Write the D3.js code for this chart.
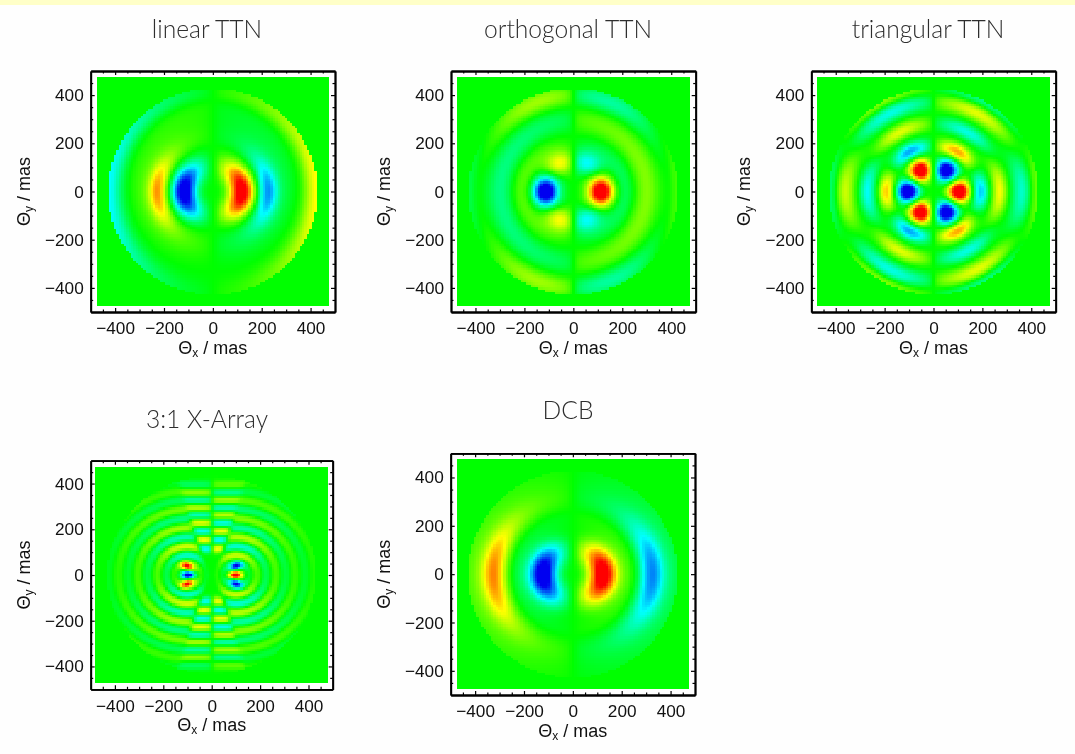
<!DOCTYPE html>
<html><head><meta charset="utf-8">
<script src="https://d3js.org/d3.v7.min.js"></script>
<style>
html,body{margin:0;padding:0;background:#fefefe;width:1075px;height:754px;overflow:hidden}
#stripe{position:absolute;left:0;top:0;width:1075px;height:5px;background:#ffffc8}
canvas{position:absolute;left:0;top:0;filter:blur(0.7px)}
svg{position:absolute;left:0;top:0;filter:blur(0.45px)}
</style></head><body>
<div id="stripe"></div>
<canvas id="c" width="1075" height="754"></canvas>
<svg id="s" width="1075" height="754"></svg>
<script>
// Titles and tick labels
const panelTitles = ["linear TTN","orthogonal TTN","triangular TTN","3:1 X-Array","DCB"];
const majorTicks = [-400,-200,0,200,400];
const minorTicks = [-450,-350,-300,-250,-150,-100,-50,50,100,150,250,300,350,450];
const discRadius = [428,428,428,432,428];
const mirrorSoftness = [30,22,18,10,30];

// Lobes, right half of each map (the left half is the mirror with opposite sign).
// Each lobe: [radius mas, angle deg, radial spread mas, angular spread deg, signed level]
const linearLobes = [
  [118,0,38,43,1.2],[150,72,40,22,0.1],
  [224,0,27,25,-0.5],[232,0,50,58,-0.24],
  [430,0,42,40,0.52],[345,55,50,45,-0.08],[405,62,25,28,0.08]
];
const orthogonalLobes = [
  [112,0,38,25,1.35],[125,65,38,26,-0.55],[125,-65,38,26,-0.55],
  [205,0,34,48,-0.22],[298,0,38,90,0.26],
  [398,68,33,24,-0.32],[398,-68,33,24,-0.32],[425,0,18,25,0.14]
];
const triangularLobes = [
  [104,0,33,19,1.35],[100,59,33,20,-1.35],[100,-59,33,20,-1.35],
  [190,0,24,20,-0.66],[190,59,24,20,0.72],[190,-59,24,20,0.72],
  [270,0,22,22,0.5],[282,60,22,20,-0.46],[282,-60,22,20,-0.46],
  [360,0,26,22,-0.42],[370,60,24,22,0.46],[370,-60,24,22,0.46],
  [425,0,20,20,0.24],[425,60,18,20,-0.28],[425,-60,18,20,-0.28]
];
const xArrayLobes = [
  [98,0,19,7,1.2],[106,20,19,6,-0.92],[106,-20,19,6,-0.92]
];
const dcbLobes = [
  [122,0,44,46,1.2],[324,0,36,27,-0.52],[320,0,75,62,-0.24],
  [238,0,36,70,0.2],[425,0,30,50,-0.05]
];
// 3:1 X-Array fringes: arcs around the bright spot and the bands in the central wedge
const xArrayRingRadii = [55,85,125,165,205,245,285,325,365,405];
const xArrayRingLevels = [-0.34,0.48,-0.46,0.4,-0.35,0.28,-0.24,0.18,-0.13,0.07];
const xArrayBandRows = [115,155,191,228,262,294,327,360,394];
const xArrayBandLevels = [0.55,-0.55,0.52,-0.5,0.42,-0.4,0.36,-0.3,0.2];

const panelLobes = [linearLobes,orthogonalLobes,triangularLobes,xArrayLobes,dcbLobes];

// Page layout
const layout = [
  {L:90.7,R:335,T:71,B:312,rx:475,ry:477,tx:207,ty:38},
  {L:451,R:695.7,T:71,B:312,rx:475,ry:477,tx:568,ty:38},
  {L:811.3,R:1055.7,T:71,B:312,rx:475,ry:477,tx:928,ty:38},
  {L:90.7,R:332.7,T:460.7,B:689.3,rx:482,ry:474,tx:207,ty:428},
  {L:450.7,R:695,T:453.3,B:695,rx:475,ry:477,tx:568,ty:419}
];

const colour = d3.scaleLinear().domain([-1,-0.5,0,0.5,1]).range(["#0000f0","#00ffff","#00ff00","#ffff00","#ff0000"]).clamp(true);

function lobeSum(lobes,x,y){
  const r=Math.hypot(x,y), a=Math.atan2(y,x)*180/Math.PI;
  let v=0;
  for(const [r0,a0,sr,sa,lv] of lobes){
    const dr=(r-r0)/sr, da=(a-a0)/sa*Math.sqrt(r/r0);
    v+=lv*Math.exp(-0.5*(dr*dr+da*da));
  }
  return v;
}
function xArrayFringes(x,y){
  const rho=Math.hypot(x-100,y);
  const sinPhi=rho>0?y/rho:0;
  let rings=0,bands=0;
  xArrayRingRadii.forEach((p,i)=>{const d=(rho-p)/16;rings+=xArrayRingLevels[i]*Math.exp(-0.5*d*d);});
  rings*=0.35+0.65*sinPhi*sinPhi;
  xArrayBandRows.forEach((p,i)=>{const d=(Math.abs(y)-p)/14;bands+=xArrayBandLevels[i]*Math.exp(-0.5*d*d);});
  const s=1/(1+Math.exp(-(x-(0.3*Math.abs(y)+16))/6));
  const core=Math.exp(-0.5*Math.pow(rho/30,4));
  return ((1-s)*bands+s*rings)*(1-core);
}
function field(i,x,y){
  if(Math.hypot(x,y)>discRadius[i]) return 0;
  const ax=Math.abs(x), w=mirrorSoftness[i];
  const gate=x/Math.sqrt(x*x+w*w);
  let v=lobeSum(panelLobes[i],ax,y);
  if(i===3) v+=xArrayFringes(ax,y);
  return v*gate;
}

const ctx=document.getElementById("c").getContext("2d");
const svg=d3.select("#s");
const cell=10;

layout.forEach((p,i)=>{
  const x=d3.scaleLinear().domain([-500,500]).range([p.L,p.R]);
  const y=d3.scaleLinear().domain([-500,500]).range([p.B,p.T]);
  // map cells
  d3.range(-p.rx,p.rx,cell).forEach(xv=>{
    d3.range(-p.ry,p.ry,cell).forEach(yv=>{
      const xe=Math.min(xv+cell,p.rx), ye=Math.min(yv+cell,p.ry);
      const x0=Math.round(x(xv)), x1=Math.round(x(xe)), y0=Math.round(y(ye)), y1=Math.round(y(yv));
      ctx.fillStyle=colour(field(i,xv+cell/2,yv+cell/2));
      ctx.fillRect(x0,y0,x1-x0,y1-y0);
    });
  });
  const g=svg.append("g");
  const styleAxis=a=>{
    a.selectAll("path.domain").attr("stroke","#000").attr("stroke-width",1.8);
    a.selectAll("line").attr("stroke","#000").attr("stroke-width",1.2);
    a.selectAll("text").attr("font-family","'Liberation Sans',Arial,sans-serif").attr("font-size",17.2).attr("fill","#111");
  };
  const addAxis=(gen,tx,ty,vals,size,labels)=>{
    const a=g.append("g").attr("transform",`translate(${tx},${ty})`)
      .call(gen.tickValues(vals).tickSize(-size).tickSizeOuter(0).tickPadding(labels||0)
        .tickFormat(labels?d3.format("d"):""));
    styleAxis(a);
    return a;
  };
  addAxis(d3.axisBottom(x),0,p.B,majorTicks,4,10);
  addAxis(d3.axisBottom(x),0,p.B,minorTicks,2.5,0);
  addAxis(d3.axisTop(x),0,p.T,majorTicks,4,0);
  addAxis(d3.axisTop(x),0,p.T,minorTicks,2.5,0);
  addAxis(d3.axisLeft(y),p.L,0,majorTicks,4,7);
  addAxis(d3.axisLeft(y),p.L,0,minorTicks,2.5,0);
  addAxis(d3.axisRight(y),p.R,0,majorTicks,4,0);
  addAxis(d3.axisRight(y),p.R,0,minorTicks,2.5,0);
  // title
  g.append("text").attr("x",p.tx).attr("y",p.ty).attr("text-anchor","middle")
    .attr("font-family","Lato,'Open Sans',sans-serif").attr("font-weight",300)
    .attr("font-size",24.6).attr("fill","#2e2e2e").text(panelTitles[i]);
  // axis titles
  const label=(sel,sub)=>{
    sel.attr("font-family","'Liberation Sans',Arial,sans-serif").attr("font-size",18).attr("fill","#111").attr("text-anchor","middle");
    sel.append("tspan").text("\u0398");
    sel.append("tspan").attr("font-size",12).attr("dy",3).text(sub);
    sel.append("tspan").attr("dy",-3).text(" / mas");
  };
  g.append("text").attr("x",(p.L+p.R)/2).attr("y",p.B+42).call(label,"x");
  g.append("text").attr("transform",`translate(${p.L-61},${(p.T+p.B)/2}) rotate(-90)`).call(label,"y");
});
</script>
</body></html>
